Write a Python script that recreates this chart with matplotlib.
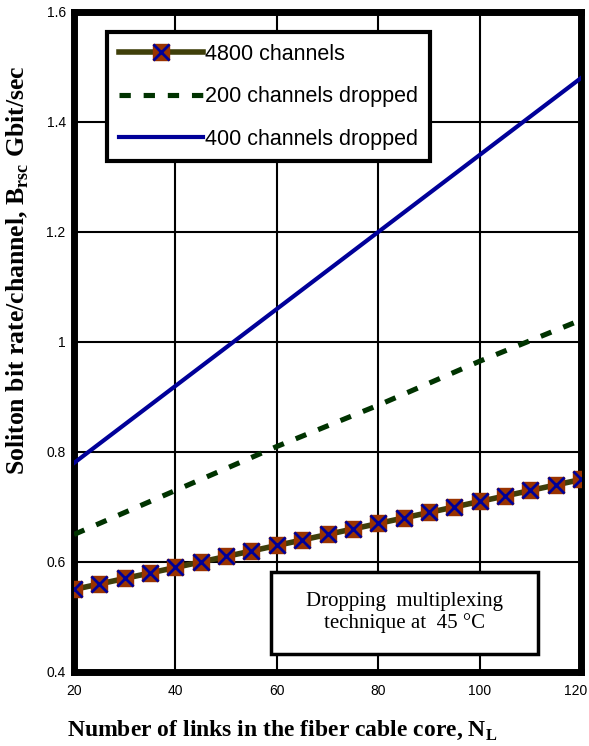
import matplotlib.pyplot as plt
from matplotlib.patches import Rectangle
from matplotlib.transforms import ScaledTranslation

# values
links = [20, 25, 30, 35, 40, 45, 50, 55, 60, 65, 70, 75, 80, 85, 90, 95, 100, 105, 110, 115, 120]
rate_4800 = [0.55, 0.56, 0.57, 0.58, 0.59, 0.60, 0.61, 0.62, 0.63, 0.64, 0.65,
             0.66, 0.67, 0.68, 0.69, 0.70, 0.71, 0.72, 0.73, 0.74, 0.75]

links_drop = [20, 40, 60, 80, 100, 120]
rate_200 = [0.65, 0.73, 0.81, 0.885, 0.965, 1.04]
rate_400 = [0.78, 0.92, 1.06, 1.20, 1.34, 1.48]

xticks = [20, 40, 60, 80, 100, 120]
yticks = [0.4, 0.6, 0.8, 1.0, 1.2, 1.4, 1.6]
ytick_labels = ['0.4', '0.6', '0.8', '1', '1.2', '1.4', '1.6']

fig = plt.figure(figsize=(5.89, 7.46), dpi=100)
ax = fig.add_axes([0.1256, 0.0992, 0.861, 0.8848])

ax.grid(True, color='black', linewidth=1.5)
ax.set_axisbelow(True)

line_4800, = ax.plot(links, rate_4800, color='#3f3f0a', linewidth=4, zorder=3)
sq, = ax.plot(links, rate_4800, linestyle='none', marker='s', markersize=12,
              markerfacecolor='#993300', markeredgecolor='#993300', zorder=4)
xx, = ax.plot(links, rate_4800, linestyle='none', marker='x', markersize=12,
              markeredgewidth=2, color='#000099', zorder=5)
line_200, = ax.plot(links_drop, rate_200, color='#003300', linewidth=3.7,
                    dashes=(2.2, 2.5), zorder=3)
line_400, = ax.plot(links_drop, rate_400, color='#000099', linewidth=3, zorder=3)

ax.set_xlim(20, 120)
ax.set_ylim(0.4, 1.6)
ax.set_xticks(xticks)
ax.set_yticks(yticks)
ax.set_yticklabels(ytick_labels)
ax.tick_params(length=0, labelsize=10)
ax.tick_params(axis='x', pad=9)
ax.tick_params(axis='y', pad=6)
for lab in ax.get_xticklabels() + ax.get_yticklabels():
    lab.set_family('Liberation Sans')
# keep the last x label inside the figure edge
last = ax.get_xticklabels()[-1]
last.set_transform(last.get_transform() + ScaledTranslation(-4 / 72, 0, fig.dpi_scale_trans))
for s in ax.spines.values():
    s.set_linewidth(5)

leg = ax.legend([(line_4800, sq, xx), line_200, line_400],
                ['4800 channels', '200 channels dropped', '400 channels dropped'],
                loc='upper left', bbox_to_anchor=(0.065, 0.97), borderaxespad=0,
                fancybox=False, edgecolor='black', framealpha=1,
                handlelength=3.9, handletextpad=0.1, labelspacing=1.0, borderpad=0.55,
                prop={'family': 'Liberation Sans', 'size': 15.5})
leg.get_frame().set_linewidth(3)

box = Rectangle((0.388, 0.028), 0.527, 0.124, transform=ax.transAxes,
                facecolor='white', edgecolor='black', linewidth=2.5, zorder=6)
ax.add_patch(box)
ax.text(0.651, 0.09, 'Dropping  multiplexing\ntechnique at  45 \u00b0C',
        transform=ax.transAxes, ha='center', va='center', zorder=7,
        family='Liberation Serif', fontsize=15, linespacing=1.15)

fig.text(282 / 589, 1 - 730 / 746,
         'Number of links in the fiber cable core, N$_\\mathregular{L}$',
         ha='center', va='center', family='Liberation Serif',
         fontweight='bold', fontsize=17)
fig.text(18 / 589, 1 - 270 / 746,
         'Soliton bit rate/channel, B$_\\mathregular{rsc}$ Gbit/sec',
         ha='center', va='center', rotation=90, family='Liberation Serif',
         fontweight='bold', fontsize=18.5)

fig.savefig('out.png', dpi=100)
